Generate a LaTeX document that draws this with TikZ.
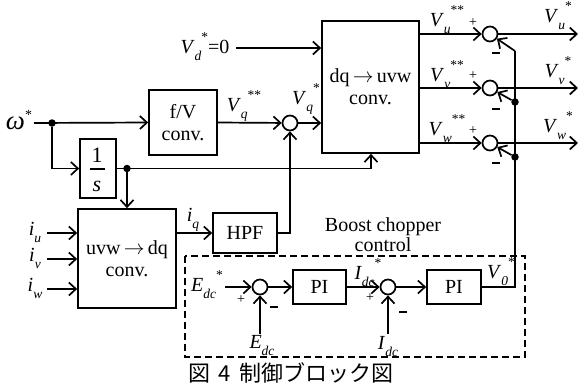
\documentclass[tikz,border=0pt]{standalone}
\usepackage{fontspec}
\setmainfont{Liberation Serif}
\newfontfamily\cjk{Noto Sans CJK JP}
\usetikzlibrary{arrows.meta,calc}
\newcommand{\lbl}[3]{\textit{#1}\raisebox{-0.35em}{\fontsize{13.5}{13.5}\selectfont\textit{#2}}\raisebox{0.6em}{\fontsize{13.5}{13.5}\selectfont #3}}
\begin{document}
\begin{tikzpicture}[x=1pt,y=-1pt,
  every node/.style={font=\fontsize{20}{22}\selectfont},
  blk/.style={draw,line width=1.7pt,inner sep=0pt,align=center},
  sumc/.style={draw,circle,line width=1.7pt,minimum size=15pt,inner sep=0pt},
  dotc/.style={fill,circle,minimum size=7.5pt,inner sep=0pt},
  lnk/.style={line width=1.7pt},
  arr/.style={line width=1.7pt,-{Straight Barb[length=7pt,width=13pt,line width=1.7pt]}},
  sgn/.style={font=\fontsize{14}{14}\selectfont,inner sep=0pt},
  lab/.style={inner sep=0pt}]
\useasboundingbox (0,0) rectangle (578,388);
% blocks
\node[blk,minimum width=68pt,minimum height=65pt] (fv) at (183,122.5) {f/V\\conv.};
\node[blk,minimum width=97pt,minimum height=132pt] (dq) at (370.5,87) {dq\,$\rightarrow$\,uvw\\conv.};
\node[blk,minimum width=36pt,minimum height=59pt] (ints) at (98,168.5) {};
\node[blk,minimum width=98pt,minimum height=99pt] (uvw) at (127,258.5) {uvw\,$\rightarrow$\,dq\\conv.};
\node[blk,minimum width=64pt,minimum height=40pt] (hpf) at (245,233) {HPF};
\node[blk,minimum width=53pt,minimum height=34pt] (pi1) at (319.5,287) {PI};
\node[blk,minimum width=54pt,minimum height=34pt] (pi2) at (454,287) {PI};
\node[lab,font=\fontsize{22}{22}\selectfont] (one) at (97,155) {1};
\node[lab,font=\fontsize{22}{22}\selectfont\itshape] (ess) at (97,186) {s};
\draw[line width=1.2pt] (90,169) -- (105,169);
% summing junctions
\node[sumc] (sq) at (290,123) {};
\node[sumc] (su) at (490,34) {};
\node[sumc] (sv) at (490,88) {};
\node[sumc] (sw) at (490,143) {};
\node[sumc] (s1) at (260,287) {};
\node[sumc] (s2) at (388,287) {};
% dots
\node[dotc] (d1) at (52,123) {};
\node[dotc] (d2) at (127,168.5) {};
\node[dotc] (dv) at (515,102) {};
\node[dotc] (dw) at (515,157) {};
% coordinates
\coordinate (w0) at (34,123);
\coordinate (vd0) at (236,48);
\coordinate (c1) at (371,168.5);
\coordinate (iu0) at (47,233);
\coordinate (iv0) at (47,259);
\coordinate (iw0) at (47,289);
\coordinate (ou) at (578,34);
\coordinate (ov) at (578,88);
\coordinate (ow) at (578,143);
\coordinate (fb0) at (515,287);
\coordinate (fbu) at (515,51);
\coordinate (e0) at (225,287);
\coordinate (e1) at (260,334);
\coordinate (i1) at (388,334);
% connectors
\draw[arr] (w0) -- (fv.west);
\draw[arr] (d1) |- (ints.west);
\draw[lnk] (ints.east) -- (c1);
\draw[arr] (c1) -- (c1 |- dq.south);
\draw[arr] (d2) -- (d2 |- uvw.north);
\draw[arr] (fv.east) -- (sq);
\draw[arr] (sq) -- (sq -| dq.west);
\draw[arr] (vd0) -- (vd0 -| dq.west);
\draw[arr] (iu0) -- (iu0 -| uvw.west);
\draw[arr] (iv0) -- (iv0 -| uvw.west);
\draw[arr] (iw0) -- (iw0 -| uvw.west);
\draw[arr] (hpf.west -| uvw.east) -- (hpf.west);
\draw[arr] (hpf.east) -| (sq.south);
\draw[arr] (su -| dq.east) -- (su);
\draw[arr] (sv -| dq.east) -- (sv);
\draw[arr] (sw -| dq.east) -- (sw);
\draw[arr] (su.east) -- (ou);
\draw[arr] (sv.east) -- (ov);
\draw[arr] (sw.east) -- (ow);
\draw[lnk] (pi2.east) -- (fb0) -- (fbu);
\draw[arr] (fbu) -- (su);
\draw[arr] (dv) -- (sv);
\draw[arr] (dw) -- (sw);
\draw[arr] (e0) -- (s1);
\draw[arr] (e1) -- (s1);
\draw[arr] (s1) -- (pi1.west);
\draw[arr] (pi1.east) -- (s2);
\draw[arr] (i1) -- (s2);
\draw[arr] (s2) -- (pi2.west);
% dashed box
\draw[line width=2pt,dash pattern=on 7pt off 4pt] (185,256) rectangle (525,357);
% labels
\node[lab] (lw) at (19,120) {{\fontsize{27}{27}\selectfont\textit{ω}}\raisebox{0.5em}{\fontsize{14}{14}\selectfont *}};
\node[lab] (lvd) at (205,47) {\lbl{V}{d}{*}=0};
\node[lab] (lvqq) at (244,106) {\lbl{V}{q}{**}};
\node[lab] (lvq) at (306,99) {\lbl{V}{q}{*}};
\node[lab] (lvuu) at (447,20) {\lbl{V}{u}{**}};
\node[lab] (lvvv) at (447,75) {\lbl{V}{v}{**}};
\node[lab] (lvww) at (447,129) {\lbl{V}{w}{**}};
\node[lab] (lvu) at (558,16) {\lbl{V}{u}{*}};
\node[lab] (lvv) at (558,71) {\lbl{V}{v}{*}};
\node[lab] (lvw) at (558,126) {\lbl{V}{w}{*}};
\node[lab] (liu) at (35,232) {\lbl{i}{u}{}};
\node[lab] (liv) at (35,258) {\lbl{i}{v}{}};
\node[lab] (liw) at (35,288) {\lbl{i}{w}{}};
\node[lab] (liq) at (193,220) {\lbl{i}{q}{}};
\node[lab] (ledcs) at (207,285) {\lbl{E}{dc}{*}};
\node[lab] (ledc) at (262,346) {\lbl{E}{dc}{}};
\node[lab] (lidcs) at (368,273) {\lbl{I}{dc}{*}};
\node[lab] (lidc) at (388,347) {\lbl{I}{dc}{}};
\node[lab] (lv0) at (501,272) {\lbl{V}{0}{*}};
\node[lab,align=center] (lboost) at (383,235) {Boost chopper\\[-2pt]control};
% signs
\node[sgn] (pu) at (473,23) {+};
\node[sgn] (pv) at (473,76) {+};
\node[sgn] (pw) at (473,131) {+};
\node[sgn] (p1) at (241,300) {+};
\node[sgn] (p2) at (370,298) {+};
\node[sgn] (mu) at (496,53) {\rule{8pt}{1.4pt}};
\node[sgn] (mv) at (496,109) {\rule{8pt}{1.4pt}};
\node[sgn] (mw) at (496,163) {\rule{8pt}{1.4pt}};
\node[sgn] (m1) at (274,307) {\rule{8pt}{1.4pt}};
\node[sgn] (m2) at (403,312) {\rule{8pt}{1.4pt}};
% caption
\node[lab] (cap) at (291,373) {\cjk\fontsize{22}{22}\selectfont 図\hspace{0.4em}4\hspace{0.4em}制御ブロック図};
\end{tikzpicture}
\end{document}
